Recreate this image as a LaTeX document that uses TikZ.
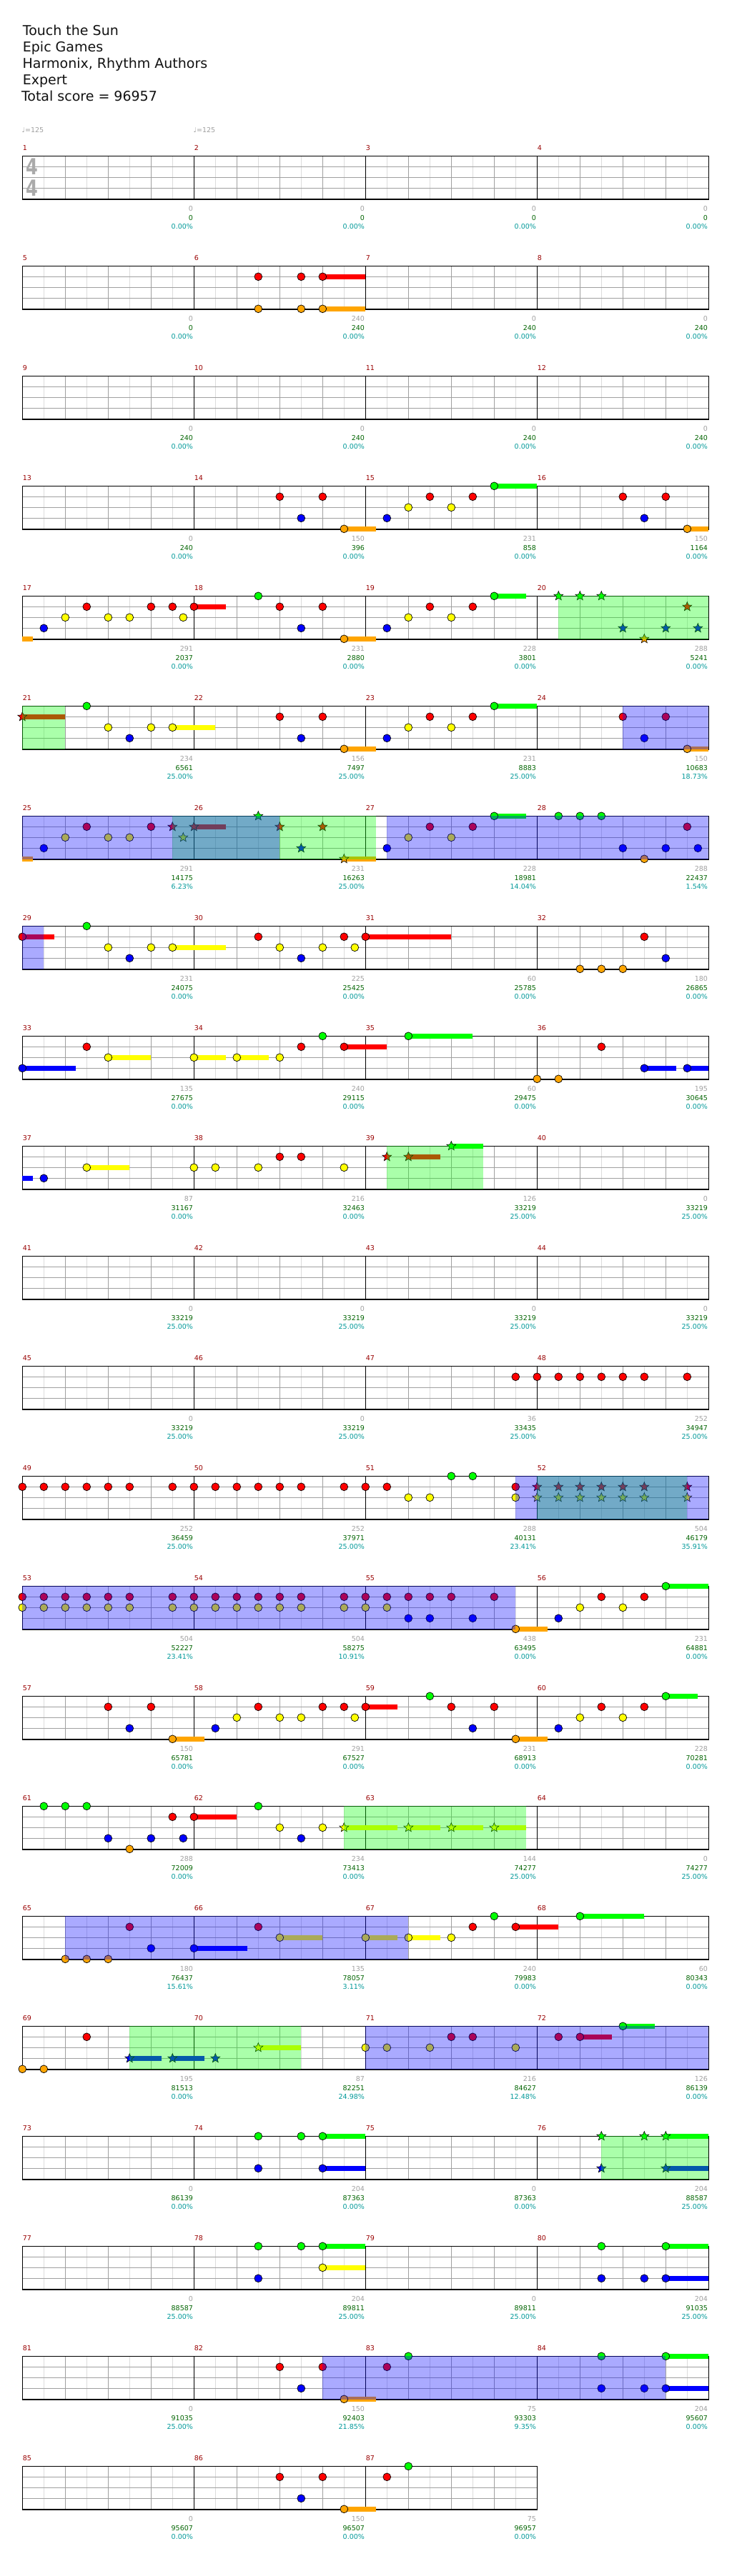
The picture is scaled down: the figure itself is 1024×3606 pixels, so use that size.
\documentclass[tikz,border=0pt]{standalone}
\usepackage{fontspec}
\setmainfont{DejaVu Sans}
\usetikzlibrary{shapes.geometric}
\definecolor{Lc0}{RGB}{0,255,0}
\definecolor{Lc1}{RGB}{255,0,0}
\definecolor{Lc2}{RGB}{255,255,0}
\definecolor{Lc3}{RGB}{0,0,255}
\definecolor{Lc4}{RGB}{255,165,0}
\definecolor{ovB}{RGB}{12,12,255}
\definecolor{ovG}{RGB}{12,255,12}
\definecolor{gLight}{RGB}{220,220,220}
\definecolor{gBeat}{RGB}{160,160,160}
\definecolor{mnum}{RGB}{153,0,0}
\definecolor{ngray}{RGB}{160,160,160}
\definecolor{ngreen}{RGB}{0,100,0}
\definecolor{nteal}{RGB}{0,153,153}
\definecolor{tsig}{RGB}{170,170,170}
\tikzset{
  notebody/.style={draw=black,line width=0.7pt},
  starnote/.style={star,star points=5,star point ratio=2.3,minimum size=13.5pt,inner sep=0pt,draw=black,line width=0.6pt},
  gridlight/.style={draw=gLight,line width=0.8pt},
  gridbeat/.style={draw=gBeat,line width=0.8pt},
  barline/.style={draw=black,line width=0.9pt},
  staffborder/.style={draw=black,line width=1.2pt},
  numtxt/.style={anchor=base east,inner sep=0pt,font=\fontsize{9.5}{10}\selectfont},
  mnumtxt/.style={anchor=base west,inner sep=0pt,text=mnum,font=\fontsize{9.5}{10}\selectfont},
  titletxt/.style={anchor=base west,inner sep=0pt,text={black!93},font=\fontsize{19}{23}\selectfont}
}
\newcommand\PX[2]{31.3+240*mod(#1-1,4)+30*(#2)}
\newcommand\PY[2]{218.3+154*floor((#1-1)/4)+15*(#2)}
\newcommand\Nc[3]{\filldraw[notebody,fill=Lc#3] ({\PX{#1}{#2}},{\PY{#1}{#3}}) circle[radius=5.4];}
\newcommand\Sr[3]{\node[starnote,fill=Lc#3] at ({\PX{#1}{#2}},{\PY{#1}{#3}}) {};}
\newcommand\Su[4]{\draw[Lc#3,line width=6.7pt] ({\PX{#1}{#2}},{\PY{#1}{#3}}) -- ++({30*(#4)},0);}
\newcommand\Reg[4]{\fill[#1,fill opacity=0.35] ({\PX{#2}{#3}},{\PY{#2}{0}}) rectangle ({\PX{#2}{#4}},{\PY{#2}{4}+0.6});}
\newcommand\Nm[4]{%
  \pgfmathsetmacro\xe{31.3+240*(mod(#1-1,4)+1)-1.2}%
  \pgfmathsetmacro\yt{218.3+154*floor((#1-1)/4)}%
  \node[numtxt,text=ngray] at ({\xe},{\yt+76.7}) {#2};
  \node[numtxt,text=ngreen] at ({\xe},{\yt+89.7}) {#3};
  \node[numtxt,text=nteal] at ({\xe},{\yt+102.4}) {#4\%};
}
\newcommand\StaffRow[2]{%
  \pgfmathsetmacro\yt{218.3+154*#1}%
  \pgfmathsetmacro\xe{31.3+240*#2}%
  \pgfmathtruncatemacro\kmax{8*#2-1}%
  \pgfmathtruncatemacro\mmax{#2-1}%
  \foreach \k in {1,3,...,\kmax} \draw[gridlight] ({31.3+30*\k},\yt) -- ++(0,60);
  \foreach \k in {2,4,...,\kmax} \draw[gridbeat] ({31.3+30*\k},\yt) -- ++(0,60);
  \foreach \j in {1,2,3} \draw[gridbeat] (31.3,{\yt+15*\j}) -- ({\xe},{\yt+15*\j});
  \foreach \k in {1,...,\mmax} \draw[barline] ({31.3+240*\k},\yt) -- ++(0,60.6);
  \draw[staffborder] (31.3,\yt) rectangle ({\xe},{\yt+60.6});
}
\begin{document}
\begin{tikzpicture}[x=1pt,y=-1pt]
\useasboundingbox (0,0) rectangle (1024,3606);
\fill[white] (0,0) rectangle (1024,3606);
% title
\node[titletxt] (t1) at (31.7,49.3) {Touch the Sun};
\node[titletxt] (t2) at (31.7,72.5) {Epic Games};
\node[titletxt] (t3) at (31.5,95.7) {Harmonix, Rhythm Authors};
\node[titletxt] (t4) at (31.7,118.7) {Expert};
\node[titletxt] (t5) at (29.8,141.7) {Total score = 96957};
% tempo
\node[anchor=base west,inner sep=0pt,text=ngray,font=\fontsize{9.5}{10}\selectfont] (tp1) at (30.5,185.3) {♩=125};
\node[anchor=base west,inner sep=0pt,text=ngray,font=\fontsize{9.5}{10}\selectfont] (tp2) at (270.5,185.3) {♩=125};
% staves
\foreach \r in {0,...,20} {\StaffRow{\r}{4}}
\StaffRow{21}{3}
% time signature
\node[inner sep=0pt,text=tsig,font=\fontsize{31}{31}\selectfont\bfseries] (ts1) at (44.7,233.4) {\scalebox{0.78}[1]{4}};
\node[inner sep=0pt,text=tsig,font=\fontsize{31}{31}\selectfont\bfseries] (ts2) at (44.7,263.4) {\scalebox{0.78}[1]{4}};
% measure numbers
\foreach \m in {1,...,87} {\node[mnumtxt] at ({\PX{\m}{0}+0.3},{\PY{\m}{0}-7.6}) {\m};}
% ---------------- notes ----------------
% m6
\Su{6}{6}{1}{2}\Su{6}{6}{4}{2}
\Nc{6}{3}{1}\Nc{6}{5}{1}\Nc{6}{6}{1}\Nc{6}{3}{4}\Nc{6}{5}{4}\Nc{6}{6}{4}
% m14-16
\Nc{14}{4}{1}\Nc{14}{6}{1}\Nc{14}{5}{3}\Su{14}{7}{4}{1.5}\Nc{14}{7}{4}
\Nc{15}{1}{3}\Nc{15}{2}{2}\Nc{15}{3}{1}\Nc{15}{4}{2}\Nc{15}{5}{1}\Su{15}{6}{0}{2}\Nc{15}{6}{0}
\Nc{16}{4}{1}\Nc{16}{5}{3}\Nc{16}{6}{1}\Su{16}{7}{4}{1}\Nc{16}{7}{4}
% m17-20
\Su{17}{0}{4}{0.5}\Nc{17}{1}{3}\Nc{17}{2}{2}\Nc{17}{3}{1}\Nc{17}{4}{2}\Nc{17}{5}{2}\Nc{17}{6}{1}\Nc{17}{7}{1}\Nc{17}{7.5}{2}
\Su{18}{0}{1}{1.5}\Nc{18}{0}{1}\Nc{18}{3}{0}\Nc{18}{4}{1}\Nc{18}{5}{3}\Nc{18}{6}{1}\Su{18}{7}{4}{1.5}\Nc{18}{7}{4}
\Nc{19}{1}{3}\Nc{19}{2}{2}\Nc{19}{3}{1}\Nc{19}{4}{2}\Nc{19}{5}{1}\Su{19}{6}{0}{1.5}\Nc{19}{6}{0}
\Sr{20}{1}{0}\Sr{20}{2}{0}\Sr{20}{3}{0}\Sr{20}{4}{3}\Sr{20}{5}{4}\Sr{20}{6}{3}\Sr{20}{7}{1}\Sr{20}{7.5}{3}
% m21-24
\Su{21}{0}{1}{2}\Sr{21}{0}{1}\Nc{21}{3}{0}\Nc{21}{4}{2}\Nc{21}{5}{3}\Nc{21}{6}{2}\Su{21}{7}{2}{2}\Nc{21}{7}{2}
\Nc{22}{4}{1}\Nc{22}{5}{3}\Nc{22}{6}{1}\Su{22}{7}{4}{1.5}\Nc{22}{7}{4}
\Nc{23}{1}{3}\Nc{23}{2}{2}\Nc{23}{3}{1}\Nc{23}{4}{2}\Nc{23}{5}{1}\Su{23}{6}{0}{2}\Nc{23}{6}{0}
\Nc{24}{4}{1}\Nc{24}{5}{3}\Nc{24}{6}{1}\Su{24}{7}{4}{1}\Nc{24}{7}{4}
% m25-28
\Su{25}{0}{4}{0.5}\Nc{25}{1}{3}\Nc{25}{2}{2}\Nc{25}{3}{1}\Nc{25}{4}{2}\Nc{25}{5}{2}\Nc{25}{6}{1}\Sr{25}{7}{1}\Sr{25}{7.5}{2}
\Su{26}{0}{1}{1.5}\Sr{26}{0}{1}\Sr{26}{3}{0}\Sr{26}{4}{1}\Sr{26}{5}{3}\Sr{26}{6}{1}\Su{26}{7}{4}{1.5}\Sr{26}{7}{4}
\Nc{27}{1}{3}\Nc{27}{2}{2}\Nc{27}{3}{1}\Nc{27}{4}{2}\Nc{27}{5}{1}\Su{27}{6}{0}{1.5}\Nc{27}{6}{0}
\Nc{28}{1}{0}\Nc{28}{2}{0}\Nc{28}{3}{0}\Nc{28}{4}{3}\Nc{28}{5}{4}\Nc{28}{6}{3}\Nc{28}{7}{1}\Nc{28}{7.5}{3}
% m29-32
\Su{29}{0}{1}{1.5}\Nc{29}{0}{1}\Nc{29}{3}{0}\Nc{29}{4}{2}\Nc{29}{5}{3}\Nc{29}{6}{2}\Su{29}{7}{2}{2.5}\Nc{29}{7}{2}
\Nc{30}{3}{1}\Nc{30}{4}{2}\Nc{30}{5}{3}\Nc{30}{6}{2}\Nc{30}{7}{1}\Nc{30}{7.5}{2}
\Su{31}{0}{1}{4}\Nc{31}{0}{1}
\Nc{32}{2}{4}\Nc{32}{3}{4}\Nc{32}{4}{4}\Nc{32}{5}{1}\Nc{32}{6}{3}
% m33-36
\Su{33}{0}{3}{2.5}\Nc{33}{0}{3}\Nc{33}{3}{1}\Su{33}{4}{2}{2}\Nc{33}{4}{2}
\Su{34}{0}{2}{1.5}\Nc{34}{0}{2}\Su{34}{2}{2}{1.5}\Nc{34}{2}{2}\Nc{34}{4}{2}\Nc{34}{5}{1}\Nc{34}{6}{0}\Su{34}{7}{1}{2}\Nc{34}{7}{1}
\Su{35}{2}{0}{3}\Nc{35}{2}{0}
\Nc{36}{0}{4}\Nc{36}{1}{4}\Nc{36}{3}{1}\Su{36}{5}{3}{1.5}\Nc{36}{5}{3}\Su{36}{7}{3}{1}\Nc{36}{7}{3}
% m37-40
\Su{37}{0}{3}{0.5}\Nc{37}{1}{3}\Su{37}{3}{2}{2}\Nc{37}{3}{2}
\Nc{38}{0}{2}\Nc{38}{1}{2}\Nc{38}{3}{2}\Nc{38}{4}{1}\Nc{38}{5}{1}\Nc{38}{7}{2}
\Sr{39}{1}{1}\Su{39}{2}{1}{1.5}\Sr{39}{2}{1}\Su{39}{4}{0}{1.5}\Sr{39}{4}{0}
% m47-48
\Nc{47}{7}{1}
\foreach \e in {0,1,2,3,4,5,7} {\Nc{48}{\e}{1}}
% m49-52
\foreach \e in {0,1,2,3,4,5,7} {\Nc{49}{\e}{1}\Nc{50}{\e}{1}}
\Nc{51}{0}{1}\Nc{51}{1}{1}\Nc{51}{2}{2}\Nc{51}{3}{2}\Nc{51}{4}{0}\Nc{51}{5}{0}\Nc{51}{7}{1}\Nc{51}{7}{2}
\foreach \e in {0,1,2,3,4,5,7} {\Sr{52}{\e}{1}\Sr{52}{\e}{2}}
% m53-56
\foreach \e in {0,1,2,3,4,5,7} {\Nc{53}{\e}{1}\Nc{53}{\e}{2}\Nc{54}{\e}{1}\Nc{54}{\e}{2}}
\foreach \e in {0,1,2,3,4,6} {\Nc{55}{\e}{1}}
\Nc{55}{0}{2}\Nc{55}{1}{2}\Nc{55}{2}{3}\Nc{55}{3}{3}\Nc{55}{5}{3}\Su{55}{7}{4}{1.5}\Nc{55}{7}{4}
\Nc{56}{1}{3}\Nc{56}{2}{2}\Nc{56}{3}{1}\Nc{56}{4}{2}\Nc{56}{5}{1}\Su{56}{6}{0}{2}\Nc{56}{6}{0}
% m57-60
\Nc{57}{4}{1}\Nc{57}{5}{3}\Nc{57}{6}{1}\Su{57}{7}{4}{1.5}\Nc{57}{7}{4}
\Nc{58}{1}{3}\Nc{58}{2}{2}\Nc{58}{3}{1}\Nc{58}{4}{2}\Nc{58}{5}{2}\Nc{58}{6}{1}\Nc{58}{7}{1}\Nc{58}{7.5}{2}
\Su{59}{0}{1}{1.5}\Nc{59}{0}{1}\Nc{59}{3}{0}\Nc{59}{4}{1}\Nc{59}{5}{3}\Nc{59}{6}{1}\Su{59}{7}{4}{1.5}\Nc{59}{7}{4}
\Nc{60}{1}{3}\Nc{60}{2}{2}\Nc{60}{3}{1}\Nc{60}{4}{2}\Nc{60}{5}{1}\Su{60}{6}{0}{1.5}\Nc{60}{6}{0}
% m61-64
\Nc{61}{1}{0}\Nc{61}{2}{0}\Nc{61}{3}{0}\Nc{61}{4}{3}\Nc{61}{5}{4}\Nc{61}{6}{3}\Nc{61}{7}{1}\Nc{61}{7.5}{3}
\Su{62}{0}{1}{2}\Nc{62}{0}{1}\Nc{62}{3}{0}\Nc{62}{4}{2}\Nc{62}{5}{3}\Nc{62}{6}{2}\Su{62}{7}{2}{2.5}\Sr{62}{7}{2}
\Su{63}{2}{2}{1.5}\Sr{63}{2}{2}\Su{63}{4}{2}{1.5}\Sr{63}{4}{2}\Su{63}{6}{2}{1.5}\Sr{63}{6}{2}
% m65-68
\Nc{65}{2}{4}\Nc{65}{3}{4}\Nc{65}{4}{4}\Nc{65}{5}{1}\Nc{65}{6}{3}
\Su{66}{0}{3}{2.5}\Nc{66}{0}{3}\Nc{66}{3}{1}\Su{66}{4}{2}{2}\Nc{66}{4}{2}
\Su{67}{0}{2}{1.5}\Nc{67}{0}{2}\Su{67}{2}{2}{1.5}\Nc{67}{2}{2}\Nc{67}{4}{2}\Nc{67}{5}{1}\Nc{67}{6}{0}\Su{67}{7}{1}{2}\Nc{67}{7}{1}
\Su{68}{2}{0}{3}\Nc{68}{2}{0}
% m69-72
\Nc{69}{0}{4}\Nc{69}{1}{4}\Nc{69}{3}{1}\Su{69}{5}{3}{1.5}\Sr{69}{5}{3}\Su{69}{7}{3}{1.5}\Sr{69}{7}{3}
\Sr{70}{1}{3}\Su{70}{3}{2}{2}\Sr{70}{3}{2}
\Nc{71}{0}{2}\Nc{71}{1}{2}\Nc{71}{3}{2}\Nc{71}{4}{1}\Nc{71}{5}{1}\Nc{71}{7}{2}
\Nc{72}{1}{1}\Su{72}{2}{1}{1.5}\Nc{72}{2}{1}\Su{72}{4}{0}{1.5}\Nc{72}{4}{0}
% m74-76
\Nc{74}{3}{0}\Nc{74}{5}{0}\Su{74}{6}{0}{2}\Nc{74}{6}{0}\Nc{74}{3}{3}\Su{74}{6}{3}{2}\Nc{74}{6}{3}
\Sr{76}{3}{0}\Sr{76}{5}{0}\Su{76}{6}{0}{2}\Sr{76}{6}{0}\Sr{76}{3}{3}\Su{76}{6}{3}{2}\Sr{76}{6}{3}
% m78-80
\Nc{78}{3}{0}\Nc{78}{5}{0}\Su{78}{6}{0}{2}\Nc{78}{6}{0}\Su{78}{6}{2}{2}\Nc{78}{6}{2}\Nc{78}{3}{3}
\Nc{80}{3}{0}\Su{80}{6}{0}{2}\Nc{80}{6}{0}\Nc{80}{3}{3}\Nc{80}{5}{3}\Su{80}{6}{3}{2}\Nc{80}{6}{3}
% m82-84
\Nc{82}{4}{1}\Nc{82}{5}{3}\Nc{82}{6}{1}\Su{82}{7}{4}{1.5}\Nc{82}{7}{4}
\Nc{83}{1}{1}\Nc{83}{2}{0}
\Nc{84}{3}{0}\Nc{84}{3}{3}\Nc{84}{5}{3}\Su{84}{6}{0}{2}\Nc{84}{6}{0}\Su{84}{6}{3}{2}\Nc{84}{6}{3}
% m86-87
\Nc{86}{4}{1}\Nc{86}{5}{3}\Nc{86}{6}{1}\Su{86}{7}{4}{1.5}\Nc{86}{7}{4}
\Nc{87}{1}{1}\Nc{87}{2}{0}
% ---------------- regions (green first, then blue) ----------------
\Reg{ovG}{20}{1}{8}
\Reg{ovG}{21}{0}{2}
\Reg{ovG}{25}{7}{16.5}
\Reg{ovG}{39}{1}{5.5}
\Reg{ovG}{52}{0}{7}
\Reg{ovG}{62}{7}{15.5}
\Reg{ovG}{69}{5}{13}
\Reg{ovG}{76}{3}{8}
\Reg{ovB}{24}{4}{8}
\Reg{ovB}{25}{0}{12}
\Reg{ovB}{27}{1}{16}
\Reg{ovB}{29}{0}{1}
\Reg{ovB}{51}{7}{16}
\Reg{ovB}{53}{0}{23}
\Reg{ovB}{65}{2}{18}
\Reg{ovB}{71}{0}{16}
\Reg{ovB}{82}{6}{22}
% ---------------- numbers ----------------
\Nm{1}{0}{0}{0.00}\Nm{2}{0}{0}{0.00}\Nm{3}{0}{0}{0.00}\Nm{4}{0}{0}{0.00}
\Nm{5}{0}{0}{0.00}\Nm{6}{240}{240}{0.00}\Nm{7}{0}{240}{0.00}\Nm{8}{0}{240}{0.00}
\Nm{9}{0}{240}{0.00}\Nm{10}{0}{240}{0.00}\Nm{11}{0}{240}{0.00}\Nm{12}{0}{240}{0.00}
\Nm{13}{0}{240}{0.00}\Nm{14}{150}{396}{0.00}\Nm{15}{231}{858}{0.00}\Nm{16}{150}{1164}{0.00}
\Nm{17}{291}{2037}{0.00}\Nm{18}{231}{2880}{0.00}\Nm{19}{228}{3801}{0.00}\Nm{20}{288}{5241}{0.00}
\Nm{21}{234}{6561}{25.00}\Nm{22}{156}{7497}{25.00}\Nm{23}{231}{8883}{25.00}\Nm{24}{150}{10683}{18.73}
\Nm{25}{291}{14175}{6.23}\Nm{26}{231}{16263}{25.00}\Nm{27}{228}{18981}{14.04}\Nm{28}{288}{22437}{1.54}
\Nm{29}{231}{24075}{0.00}\Nm{30}{225}{25425}{0.00}\Nm{31}{60}{25785}{0.00}\Nm{32}{180}{26865}{0.00}
\Nm{33}{135}{27675}{0.00}\Nm{34}{240}{29115}{0.00}\Nm{35}{60}{29475}{0.00}\Nm{36}{195}{30645}{0.00}
\Nm{37}{87}{31167}{0.00}\Nm{38}{216}{32463}{0.00}\Nm{39}{126}{33219}{25.00}\Nm{40}{0}{33219}{25.00}
\Nm{41}{0}{33219}{25.00}\Nm{42}{0}{33219}{25.00}\Nm{43}{0}{33219}{25.00}\Nm{44}{0}{33219}{25.00}
\Nm{45}{0}{33219}{25.00}\Nm{46}{0}{33219}{25.00}\Nm{47}{36}{33435}{25.00}\Nm{48}{252}{34947}{25.00}
\Nm{49}{252}{36459}{25.00}\Nm{50}{252}{37971}{25.00}\Nm{51}{288}{40131}{23.41}\Nm{52}{504}{46179}{35.91}
\Nm{53}{504}{52227}{23.41}\Nm{54}{504}{58275}{10.91}\Nm{55}{438}{63495}{0.00}\Nm{56}{231}{64881}{0.00}
\Nm{57}{150}{65781}{0.00}\Nm{58}{291}{67527}{0.00}\Nm{59}{231}{68913}{0.00}\Nm{60}{228}{70281}{0.00}
\Nm{61}{288}{72009}{0.00}\Nm{62}{234}{73413}{0.00}\Nm{63}{144}{74277}{25.00}\Nm{64}{0}{74277}{25.00}
\Nm{65}{180}{76437}{15.61}\Nm{66}{135}{78057}{3.11}\Nm{67}{240}{79983}{0.00}\Nm{68}{60}{80343}{0.00}
\Nm{69}{195}{81513}{0.00}\Nm{70}{87}{82251}{24.98}\Nm{71}{216}{84627}{12.48}\Nm{72}{126}{86139}{0.00}
\Nm{73}{0}{86139}{0.00}\Nm{74}{204}{87363}{0.00}\Nm{75}{0}{87363}{0.00}\Nm{76}{204}{88587}{25.00}
\Nm{77}{0}{88587}{25.00}\Nm{78}{204}{89811}{25.00}\Nm{79}{0}{89811}{25.00}\Nm{80}{204}{91035}{25.00}
\Nm{81}{0}{91035}{25.00}\Nm{82}{150}{92403}{21.85}\Nm{83}{75}{93303}{9.35}\Nm{84}{204}{95607}{0.00}
\Nm{85}{0}{95607}{0.00}\Nm{86}{150}{96507}{0.00}\Nm{87}{75}{96957}{0.00}
\end{tikzpicture}
\end{document}
